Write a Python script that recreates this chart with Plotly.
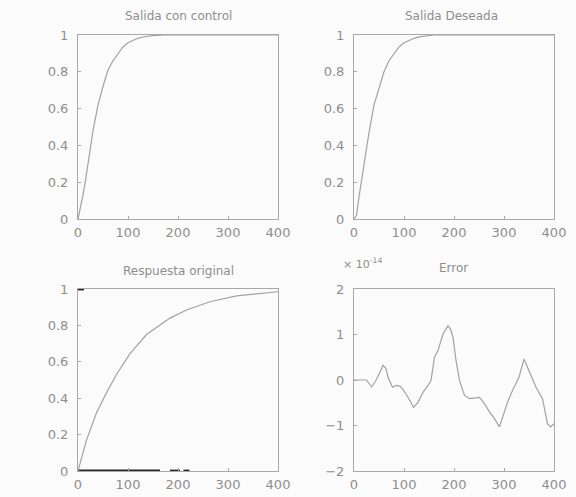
import plotly.graph_objects as go
from plotly.subplots import make_subplots

# ---- data ----
t_ctrl = [0, 5, 10, 15, 20, 25, 30, 40, 50, 60, 70, 80, 90, 100, 110, 120, 130, 140, 150, 175, 200, 250, 300, 350, 400]
y_ctrl = [0, 0.06, 0.13, 0.21, 0.29, 0.39, 0.48, 0.62, 0.72, 0.81, 0.86, 0.90, 0.935, 0.958, 0.972, 0.982, 0.989, 0.994, 0.997, 1, 1, 1, 1, 1, 1]

t_des = [0, 5, 10, 20, 30, 40, 50, 60, 70, 80, 90, 100, 110, 120, 130, 145, 160, 200, 250, 300, 350, 400]
y_des = [0, 0.02, 0.12, 0.30, 0.47, 0.62, 0.71, 0.80, 0.86, 0.90, 0.935, 0.958, 0.972, 0.982, 0.99, 0.997, 1, 1, 1, 1, 1, 1]

t_orig = [0, 10, 17, 37, 57, 77, 104, 137, 184, 217, 264, 317, 360, 400]
y_orig = [0, 0.1, 0.17, 0.32, 0.43, 0.53, 0.645, 0.75, 0.84, 0.885, 0.93, 0.962, 0.975, 0.985]

t_err = [0, 25, 35, 42, 52, 58, 64, 68, 77, 85, 92, 97, 108, 119, 128, 138, 148, 154, 161, 168, 178, 188, 193,
         198, 204, 211, 221, 231, 251, 261, 271, 281, 291, 297, 307, 317, 330, 340, 350, 364, 377, 387, 393, 400]
y_err = [0, 0, -0.15, -0.05, 0.17, 0.32, 0.25, 0.06, -0.16, -0.12, -0.14, -0.19, -0.38, -0.6, -0.49, -0.27, -0.12, -0.01,
         0.5, 0.65, 1.01, 1.19, 1.12, 0.94, 0.43, -0.01, -0.34, -0.41, -0.38, -0.52, -0.7, -0.85, -1.03, -0.81, -0.49,
         -0.23, 0.06, 0.46, 0.21, -0.16, -0.41, -0.96, -1.03, -0.96]

# dark scan marks along the frame of "Respuesta original"
t_dark = [0, 164, None, 184, 204, None, 211, 223, None, 0, 12]
y_dark = [0, 0, None, 0, 0, None, 0, 0, None, 1, 1]

x_ticks = [0, 100, 200, 300, 400]
y_ticks_resp = [0, 0.2, 0.4, 0.6, 0.8, 1]
y_ticks_resp_lbl = ["0", "0.2", "0.4", "0.6", "0.8", "1"]
y_ticks_err = [-2, -1, 0, 1, 2]
titles = ["Salida con control", "Salida Deseada", "Respuesta original", "Error"]

LINE = "#a2a2a2"
AXIS = "#a8a8a8"
TXT = "#8e8e8e"
FONT = "DejaVu Sans"

fig = make_subplots(rows=2, cols=2)

fig.add_trace(go.Scatter(x=t_ctrl, y=y_ctrl, mode="lines", line=dict(color=LINE, width=1.2)), row=1, col=1)
fig.add_trace(go.Scatter(x=t_des, y=y_des, mode="lines", line=dict(color=LINE, width=1.2)), row=1, col=2)
fig.add_trace(go.Scatter(x=t_dark, y=y_dark, mode="lines", line=dict(color="#262626", width=2.8)), row=2, col=1)
fig.add_trace(go.Scatter(x=t_orig, y=y_orig, mode="lines", line=dict(color=LINE, width=1.2)), row=2, col=1)
fig.add_trace(go.Scatter(x=t_err, y=y_err, mode="lines", line=dict(color=LINE, width=1.2)), row=2, col=2)

xd = [[78 / 576, 278 / 576], [354 / 576, 554 / 576]]
yd = [[1 - 219 / 497, 1 - 35 / 497], [1 - 471 / 497, 1 - 289 / 497]]

axis_common = dict(showline=True, linecolor=AXIS, linewidth=1, mirror=True, showgrid=False, zeroline=False,
                   ticks="inside", ticklen=3, tickcolor=AXIS, automargin=False,
                   tickfont=dict(family=FONT, size=13, color=TXT))

k = 0
for r in range(2):
    for c in range(2):
        k += 1
        xa = "xaxis" if k == 1 else f"xaxis{k}"
        ya = "yaxis" if k == 1 else f"yaxis{k}"
        fig.update_layout({
            xa: dict(domain=xd[c], range=[0, 400], tickvals=x_ticks, ticklabelstandoff=1, **axis_common),
        })
        if k == 4:
            fig.update_layout({ya: dict(domain=yd[r], range=[-2, 2], tickvals=y_ticks_err,
                                        ticklabelstandoff=6, **axis_common)})
        else:
            fig.update_layout({ya: dict(domain=yd[r], range=[0, 1], tickvals=y_ticks_resp,
                                        ticktext=y_ticks_resp_lbl, ticklabelstandoff=6, **axis_common)})

title_pos = [(178, 16), (451, 16), (178, 271), (453, 268)]
for (px, py), txt in zip(title_pos, titles):
    fig.add_annotation(x=px / 576, y=1 - py / 497, xref="paper", yref="paper", text=txt, showarrow=False,
                       font=dict(family=FONT, size=12, color=TXT), xanchor="center", yanchor="middle")

fig.add_annotation(x=341 / 576, y=1 - 263 / 497, xref="paper", yref="paper",
                   text="× 10<sup>-14</sup>", showarrow=False,
                   font=dict(family=FONT, size=11, color=TXT), xanchor="left", yanchor="middle")

fig.update_layout(width=576, height=497, margin=dict(l=0, r=0, t=0, b=0, autoexpand=False), showlegend=False,
                  paper_bgcolor="#fbfbfb", plot_bgcolor="#fbfbfb")

fig.write_html("out.html", config={"displayModeBar": False},
               post_script="document.body.style.margin='0';document.body.style.overflow='hidden';")
